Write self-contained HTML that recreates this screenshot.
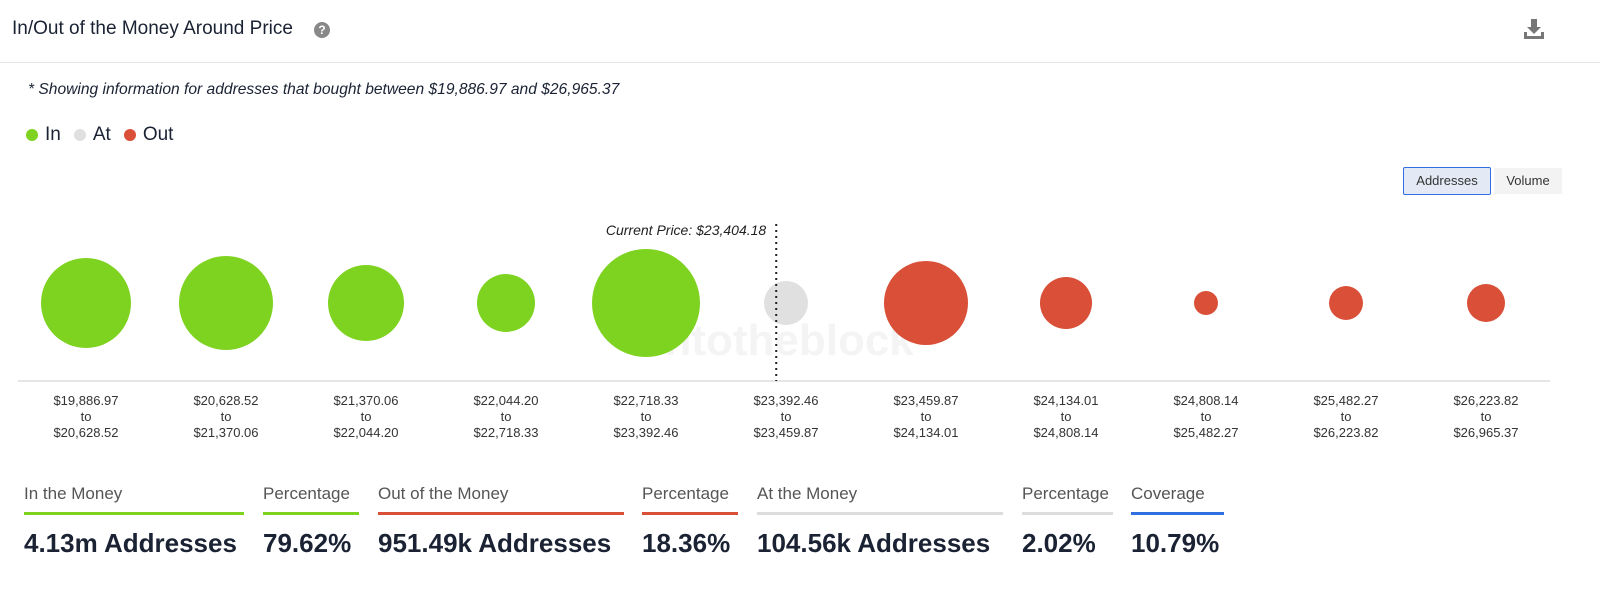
<!DOCTYPE html>
<html><head><meta charset="utf-8"><style>
body{margin:0;width:1600px;height:598px;background:#fff;font-family:"Liberation Sans",sans-serif;position:relative;overflow:hidden;color:#1a2233}
.a{position:absolute}
.btn{position:absolute;top:167px;height:26px;font-size:13px;line-height:26px;text-align:center;color:#333}
.stat{position:absolute;top:484px}
.stat .l{font-size:17px;color:#555;height:20px}
.stat .bar{height:3px;margin-top:8px}
.stat .v{font-size:26px;font-weight:bold;margin-top:13px;color:#1a2233;white-space:nowrap}
</style></head><body>
<div class="a" style="left:12px;top:18px;font-size:19px">In/Out of the Money Around Price</div>
<div class="a" style="left:314px;top:22px;width:16px;height:16px;border-radius:50%;background:#888;color:#fff;font-size:12px;font-weight:bold;text-align:center;line-height:16px">?</div>
<svg class="a" style="left:1523px;top:18px" width="22" height="22"><path d="M8 1h6v8h4l-7 7-7-7h4z M1 14h3v4h14v-4h3v7H1z" fill="#777"/></svg>
<div class="a" style="left:0;top:62px;width:1600px;height:1px;background:#e6e6e6"></div>
<div class="a" style="left:28px;top:81px;font-size:15.6px;font-style:italic">* Showing information for addresses that bought between $19,886.97 and $26,965.37</div>
<div class="a" style="left:26px;top:124px;font-size:19px;display:flex;align-items:center">
<span style="display:flex;align-items:center"><span style="width:12px;height:12px;border-radius:50%;background:#7ed321;margin-right:7px"></span>In</span>
<span style="display:flex;align-items:center;margin-left:13px"><span style="width:12px;height:12px;border-radius:50%;background:#e0e0e0;margin-right:7px"></span>At</span>
<span style="display:flex;align-items:center;margin-left:13px"><span style="width:12px;height:12px;border-radius:50%;background:#d94f38;margin-right:7px"></span>Out</span>
</div>
<div class="btn" style="left:1403px;width:86px;background:#e3e9f5;border:1px solid #2f6fe0;border-radius:2px">Addresses</div>
<div class="btn" style="left:1494px;width:68px;background:#f3f3f3;top:168px">Volume</div>
<svg class="a" id="chart" style="left:0;top:200px" width="1600" height="250"></svg>
<div class="stat" style="left:24px;width:220px"><div class="l">In the Money</div><div class="bar" style="background:#7ed321"></div><div class="v">4.13m Addresses</div></div>
<div class="stat" style="left:263px;width:96px"><div class="l">Percentage</div><div class="bar" style="background:#7ed321"></div><div class="v">79.62%</div></div>
<div class="stat" style="left:378px;width:246px"><div class="l">Out of the Money</div><div class="bar" style="background:#d94f38"></div><div class="v">951.49k Addresses</div></div>
<div class="stat" style="left:642px;width:96px"><div class="l">Percentage</div><div class="bar" style="background:#d94f38"></div><div class="v">18.36%</div></div>
<div class="stat" style="left:757px;width:246px"><div class="l">At the Money</div><div class="bar" style="background:#ddd"></div><div class="v">104.56k Addresses</div></div>
<div class="stat" style="left:1022px;width:91px"><div class="l">Percentage</div><div class="bar" style="background:#ddd"></div><div class="v">2.02%</div></div>
<div class="stat" style="left:1131px;width:93px"><div class="l">Coverage</div><div class="bar" style="background:#2f6fe0"></div><div class="v">10.79%</div></div>
<script>
const lows=["$19,886.97","$20,628.52","$21,370.06","$22,044.20","$22,718.33","$23,392.46","$23,459.87","$24,134.01","$24,808.14","$25,482.27","$26,223.82"];
const highs=["$20,628.52","$21,370.06","$22,044.20","$22,718.33","$23,392.46","$23,459.87","$24,134.01","$24,808.14","$25,482.27","$26,223.82","$26,965.37"];
const addresses=[886,967,632,368,1276,212,772,296,63,126,158];
const status=["in","in","in","in","in","at","out","out","out","out","out"];
const currentPrice=23404.18;
const NS="http://www.w3.org/2000/svg",svg=document.getElementById('chart');
const colors={in:"#7ed321",at:"#e0e0e0",out:"#d94f38"};
const x0=16,x1=1556,n=lows.length,bw=(x1-x0)/n;
const xc=i=>x0+bw*(i+0.5);
const maxV=Math.max(...addresses);
const rS=v=>54*Math.sqrt(v/maxV);
const cy=103;
function mk(t,a){const e=document.createElementNS(NS,t);for(const k in a)e.setAttribute(k,a[k]);svg.appendChild(e);return e;}
const wm=mk('text',{x:783,y:155,'font-size':44,fill:'#f4f4f4','text-anchor':'middle','font-weight':'bold'});wm.textContent='intotheblock';


addresses.forEach((v,i)=>{
 const c=mk('circle',{cx:xc(i),cy:cy,r:rS(v),fill:colors[status[i]]});
 
 
 [lows[i],'to',highs[i]].forEach((s,j)=>{
  const t=mk('text',{x:xc(i),y:205+16*j,'font-size':13,fill:'#333','text-anchor':'middle','font-family':'Liberation Sans'});t.textContent=s;
  
  
 });
});
const ax=mk('line',{x1:18,x2:1550,y1:181,y2:181,stroke:'#ccc'});


// current price marker near the centre of the "at" bin
const ai=status.indexOf('at');
const lo=parseFloat(lows[ai].replace(/[$,]/g,'')),hi=parseFloat(highs[ai].replace(/[$,]/g,''));
const px=xc(ai)+30*((currentPrice-lo)/(hi-lo)-0.5);
const cl=mk('line',{x1:px,x2:px,y1:24,y2:181,stroke:'#222','stroke-width':2,'stroke-dasharray':'2,4'});


const ct=mk('text',{x:px-10,y:35,'font-size':14,'font-style':'italic',fill:'#222','text-anchor':'end'});ct.textContent='Current Price: $'+currentPrice.toLocaleString('en-US',{minimumFractionDigits:2});


</script>
</body></html>
